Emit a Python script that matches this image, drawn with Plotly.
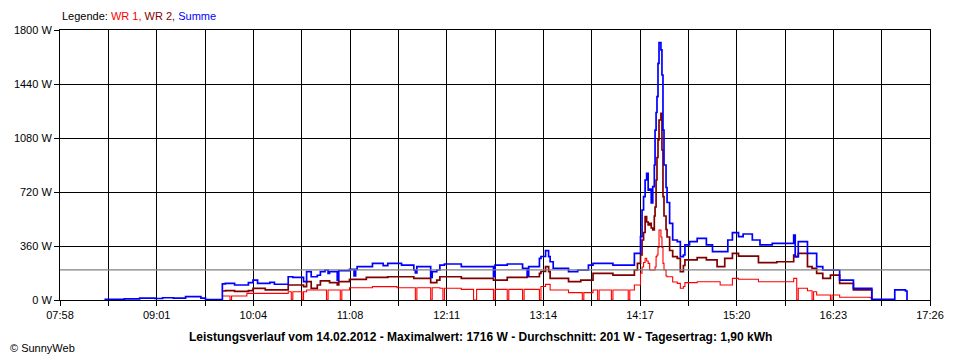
import plotly.graph_objects as go

# ---- data: time stamps and power in W ----
times = ["08:27", "08:40", "08:50", "09:00", "09:05", "09:12", "09:20", "09:27", "09:30", "09:33",
         "09:44", "09:46", "09:49", "09:50", "09:52", "10:00", "10:01", "10:04", "10:07", "10:12",
         "10:15", "10:18", "10:27", "10:29", "10:30", "10:36", "10:37", "10:39", "10:42", "10:46",
         "10:48", "10:51", "10:52", "10:53", "10:54", "10:59", "11:00", "11:01", "11:02", "11:07",
         "11:10", "11:11", "11:12", "11:18", "11:22", "11:29", "11:32", "11:38", "11:41", "11:49",
         "11:50", "11:51", "11:58", "12:00", "12:01", "12:04", "12:06", "12:08", "12:09", "12:20",
         "12:28", "12:30", "12:41", "12:42", "12:50", "12:51", "13:00", "13:01", "13:03", "13:04",
         "13:11", "13:12", "13:15", "13:17", "13:18", "13:20", "13:30", "13:36", "13:38", "13:39",
         "13:40", "13:43", "13:46", "13:49", "13:50", "13:58", "13:59", "14:09", "14:10", "14:13",
         "14:15", "14:17", "14:18", "14:19", "14:20", "14:21", "14:22", "14:23", "14:24", "14:25",
         "14:26:00", "14:26:30", "14:27:10", "14:27:45", "14:28:25", "14:29:05", "14:30:20",
         "14:31:00", "14:31:40", "14:32:20",
         "14:33:40", "14:34:20", "14:36", "14:38", "14:41", "14:43", "14:45", "14:46", "14:49", "14:54",
         "15:00", "15:04", "15:07", "15:09", "15:12", "15:14", "15:17", "15:21", "15:24", "15:30",
         "15:34", "15:35", "15:43", "15:46", "15:57", "15:58", "15:59", "16:00", "16:06", "16:09",
         "16:10", "16:12", "16:16", "16:21", "16:22", "16:27", "16:36", "16:47", "16:48", "17:02",
         "17:03", "17:10", "17:11"]

summe = [5, 8, 12, 10, 15, 12, 22, 22, 12, 3,
         108, 111, 111, 111, 100, 100, 116, 133, 111, 111,
         118, 105, 155, 155, 151, 151, 122, 189, 155, 165,
         189, 200, 200, 178, 189, 133, 195, 195, 195, 204,
         160, 204, 222, 222, 244, 229, 244, 244, 233, 200,
         180, 222, 222, 150, 189, 200, 233, 233, 240, 222,
         222, 222, 155, 233, 240, 240, 211, 211, 160, 222,
         278, 290, 329, 289, 255, 211, 189, 200, 200, 200,
         200, 233, 244, 244, 244, 244, 233, 233, 233, 311,
         311, 422, 600, 689, 800, 844, 733, 740, 647, 756,
         900, 1133, 1250, 1356, 1578, 1716, 1667, 1500, 1133, 900,
         750, 650, 511, 400, 389, 289, 300, 367, 389, 411,
         367, 322, 322, 322, 322, 400, 449, 422, 440, 400,
         400, 367, 378, 378, 433, 289, 289, 389, 311, 311,
         311, 222, 200, 200, 200, 133, 78, 78, 5, 5,
         67, 60, 0]

wr2 = [None, None, None, None, None, None, None, None, None, None,
       60, 62, 62, 62, 58, 58, 62, 78, 78, 67,
       67, 67, 100, 100, 100, 100, 89, 122, 78, 100,
       127, 127, 127, 127, 116, 100, 122, 122, 122, 138,
       138, 138, 138, 151, 151, 151, 155, 155, 155, 144,
       144, 144, 144, 116, 116, 133, 155, 155, 155, 144,
       144, 144, 133, 133, 151, 151, 151, 151, 155, 155,
       178, 190, 222, 189, 144, 144, 122, 122, 133, 133,
       133, 133, 178, 178, 178, 178, 166, 166, 166, 200,
       244, 300, 400, 450, 556, 520, 500, 511, 480, 467,
       560, 620, 800, 950, 1067, 1200, 1244, 1000, 689, 560,
       470, 420, 330, 289, 278, 189, 230, 267, 267, 282,
       267, 267, 222, 222, 278, 278, 311, 293, 293, 293,
       249, 249, 249, 255, 300, 289, 289, 311, 222, 211,
       211, 178, 144, 166, 166, 111, 67, 67, 0, None,
       None, None, None]

wr1 = [None, None, None, None, None, None, None, None, None, None,
       27, 27, 0, 27, 27, 44, 44, 44, 44, 44,
       44, 44, 55, 0, 55, 0, 55, 67, 67, 67,
       67, 67, 0, 67, 67, 67, 67, 0, 67, 82,
       82, 82, 82, 82, 89, 89, 89, 82, 82, 82,
       0, 82, 82, 0, 82, 82, 78, 0, 78, 71,
       0, 71, 0, 71, 0, 71, 0, 71, 71, 71,
       0, 90, 104, 104, 67, 67, 49, 49, 49, 0,
       49, 49, 67, 0, 67, 0, 67, 0, 67, 100,
       100, 178, 220, 250, 278, 260, 244, 200, 200, 200,
       200, 220, 289, 300, 350, 467, 420, 350, 244, 200,
       160, 155, 155, 120, 111, 78, 90, 116, 116, 122,
       122, 122, 122, 100, 100, 100, 144, 138, 138, 138,
       122, 122, 122, 122, 144, 144, 0, 78, 62, 0,
       55, 33, 33, 0, 33, 18, 18, 15, 0, None,
       None, None, None]

average_w = 201
y_ticks = [0, 360, 720, 1080, 1440, 1800]
x_labels = ["07:58", "09:01", "10:04", "11:08", "12:11", "13:14", "14:17", "15:20", "16:23", "17:26"]
title_text = ("Leistungsverlauf vom 14.02.2012 - Maximalwert: 1716 W - "
              "Durchschnitt: 201 W - Tagesertrag: 1,90 kWh")


def to_min(s):
    parts = [int(p) for p in s.split(":")]
    return parts[0] * 60 + parts[1] + (parts[2] / 60 if len(parts) > 2 else 0)


x = [to_min(t) for t in times]
x_start = to_min(x_labels[0])
x_end = to_min(x_labels[-1])
n_grid = 2 * (len(x_labels) - 1)
tickvals = [x_start + (x_end - x_start) * k / n_grid for k in range(n_grid + 1)]
ticktext = [x_labels[k // 2] if k % 2 == 0 else "" for k in range(n_grid + 1)]

FONT = "Liberation Sans, Arial, sans-serif"

fig = go.Figure()
fig.add_trace(go.Scatter(x=x, y=wr1, mode="lines", name="WR 1",
                         line=dict(color="#FF0000", width=1.1, shape="hv")))
fig.add_trace(go.Scatter(x=x, y=wr2, mode="lines", name="WR 2",
                         line=dict(color="#800000", width=1.7, shape="hv")))
fig.add_trace(go.Scatter(x=x, y=summe, mode="lines", name="Summe",
                         line=dict(color="#0000FF", width=1.7, shape="hv")))

fig.add_shape(type="line", xref="paper", x0=0, x1=1, yref="y", y0=average_w, y1=average_w,
              line=dict(color="#808080", width=1.2), layer="above")

# page body has an 8px margin: the figure is sized/offset to land on the reference layout
fig.update_layout(
    width=952, height=352,
    margin=dict(l=52, r=30, t=22, b=60, autoexpand=False),
    paper_bgcolor="white", plot_bgcolor="white",
    showlegend=False,
    font=dict(family=FONT, size=11, color="black"),
    xaxis=dict(range=[x_start, x_end], tickmode="array", tickvals=tickvals, ticktext=ticktext,
               showgrid=True, gridcolor="black", gridwidth=1,
               ticks="outside", ticklen=5, tickcolor="black",
               showline=True, linecolor="black", linewidth=1, mirror=True,
               zeroline=False, tickfont=dict(size=11)),
    yaxis=dict(range=[0, 1800], tickmode="array", tickvals=y_ticks,
               ticktext=[f"{v} W" for v in y_ticks],
               showgrid=True, gridcolor="black", gridwidth=1,
               ticks="outside", ticklen=5, tickcolor="black",
               showline=True, linecolor="black", linewidth=1, mirror=True,
               zeroline=False, tickfont=dict(size=11)),
)

fig.add_annotation(xref="paper", yref="paper", x=0, y=1, yshift=14, xanchor="left", yanchor="middle",
                   showarrow=False, font=dict(size=11),
                   text=('Legende: <span style="color:#FF0000">WR 1,</span> '
                         '<span style="color:#800000">WR 2,</span> '
                         '<span style="color:#0000FF">Summe</span>'))
fig.add_annotation(xref="paper", yref="paper", x=0.4828, y=0, yshift=-37, xanchor="center",
                   yanchor="middle", showarrow=False,
                   font=dict(size=12, family=FONT), text="<b>" + title_text + "</b>")
fig.add_annotation(xref="paper", yref="paper", x=0, xshift=-52, y=0, yshift=-48,
                   xanchor="left", yanchor="middle", showarrow=False,
                   font=dict(size=11), text="© SunnyWeb")

fig.write_html("out.html")
